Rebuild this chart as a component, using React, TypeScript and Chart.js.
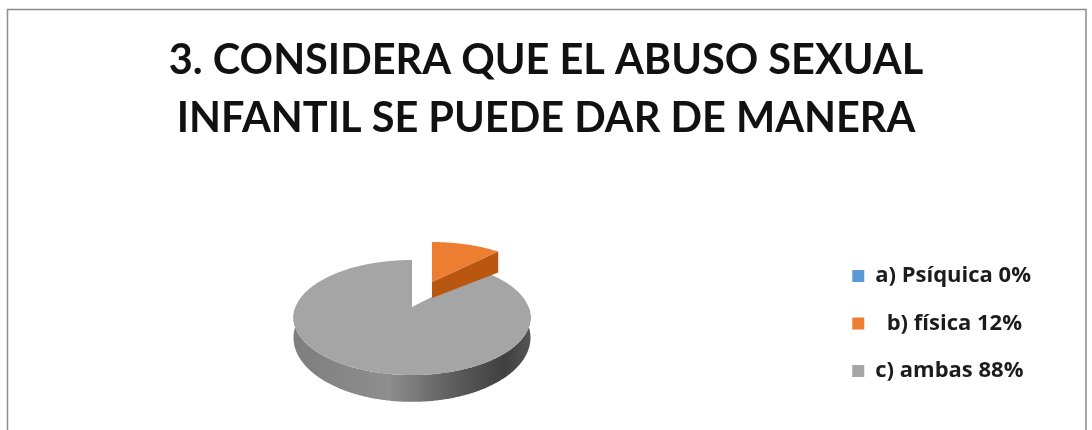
import React, { useEffect, useRef } from "react";
import { Chart, registerables } from "chart.js";

Chart.register(...registerables);

const titleLines = ["3. CONSIDERA QUE EL ABUSO SEXUAL", "INFANTIL SE PUEDE DAR DE MANERA"];
const categories = ["a) Psíquica 0%", "  b) física 12%", "c) ambas 88%"];
const values = [0, 12, 88];
const colors = ["#5b9bd5", "#ed7d31", "#a5a5a5"];

const frame = { left: 7.5, top: 9.5, right: 1086, color: "#8c8c8c" };
const view = { x: 412, y: 307, xScale: 116.5, yScale: 55.6, persp: 0.1826, baseY: 326, baseYScale: 62 };
const explode = { dx: 20, dy: -25, sx: 0.94, sy: 0.85, baseDrop: 16, wall: "#b9560f" };
const sideStops: [number, string][] = [
  [0, "#7e7e7e"],
  [0.4, "#8e8e8e"],
  [0.69, "#5a5a5a"],
  [0.89, "#404040"],
  [1, "#555555"],
];

function project(a: number, base: boolean): [number, number] {
  const u = Math.cos(a);
  const v = Math.sin(a);
  const s = 1 / (1 - view.persp * v);
  return [
    view.x + view.xScale * u * s,
    (base ? view.baseY + view.baseYScale * v * s : view.y + view.yScale * v * s),
  ];
}

function samples(from: number, to: number): number[] {
  const n = Math.max(2, Math.ceil(Math.abs(to - from) / 0.01));
  const out: number[] = [];
  for (let i = 0; i <= n; i++) out.push(from + ((to - from) * i) / n);
  return out;
}

const pie3d = {
  id: "pie3d",
  beforeDatasetsDraw(chart: any) {
    const ctx = chart.ctx as CanvasRenderingContext2D;
    const arcs = chart.getDatasetMeta(0).data;
    const fills = chart.data.datasets[0].backgroundColor as string[];
    const order = arcs.map((_: any, i: number) => i).sort((a: number, b: number) => (arcs[a].options.offset > 0 ? 1 : 0) - (arcs[b].options.offset > 0 ? 1 : 0));
    ctx.save();
    for (const i of order) {
      const arc = arcs[i];
      if (arc.endAngle - arc.startAngle <= 0) continue;
      const exploded = arc.options.offset > 0;
      const angles = samples(arc.startAngle, arc.endAngle);
      if (exploded) {
        const map = (p: [number, number], drop = 0): [number, number] => [
          view.x + explode.dx + (p[0] - view.x) * explode.sx,
          view.y + explode.dy + (p[1] - view.y) * explode.sy + drop,
        ];
        const apex = map([view.x, view.y]);
        const corner = map(project(arc.endAngle, false));
        ctx.fillStyle = explode.wall;
        ctx.beginPath();
        ctx.moveTo(apex[0], apex[1]);
        ctx.lineTo(corner[0], corner[1]);
        ctx.lineTo(corner[0], corner[1] + explode.baseDrop + 5);
        ctx.lineTo(apex[0], apex[1] + explode.baseDrop);
        ctx.closePath();
        ctx.fill();
        ctx.fillStyle = fills[i];
        ctx.beginPath();
        ctx.moveTo(apex[0], apex[1]);
        for (const a of angles) {
          const p = map(project(a, false));
          ctx.lineTo(p[0], p[1]);
        }
        ctx.closePath();
        ctx.fill();
      } else {
        const from = Math.max(arc.startAngle, 0);
        const to = Math.min(arc.endAngle, Math.PI);
        if (to > from) {
          const g = ctx.createLinearGradient(view.x - 119, 0, view.x + 119, 0);
          for (const [t, c] of sideStops) g.addColorStop(t, c);
          ctx.fillStyle = g;
          ctx.beginPath();
          const front = samples(from, to);
          front.forEach((a, k) => {
            const p = project(a, false);
            if (k === 0) ctx.moveTo(p[0], p[1]);
            else ctx.lineTo(p[0], p[1]);
          });
          [...front].reverse().forEach((a) => {
            const p = project(a, true);
            ctx.lineTo(p[0], p[1]);
          });
          ctx.closePath();
          ctx.fill();
        }
        ctx.fillStyle = fills[i];
        ctx.beginPath();
        ctx.moveTo(view.x, view.y);
        for (const a of angles) {
          const p = project(a, false);
          ctx.lineTo(p[0], p[1]);
        }
        ctx.closePath();
        ctx.fill();
      }
    }
    ctx.restore();
    return false;
  },
};

const framePlugin = {
  id: "framePlugin",
  beforeDraw(chart: any) {
    const ctx = chart.ctx as CanvasRenderingContext2D;
    ctx.save();
    ctx.fillStyle = "#ffffff";
    ctx.fillRect(0, 0, chart.width, chart.height);
    ctx.strokeStyle = frame.color;
    ctx.lineWidth = 1.5;
    ctx.beginPath();
    ctx.moveTo(frame.left, chart.height);
    ctx.lineTo(frame.left, frame.top);
    ctx.lineTo(frame.right, frame.top);
    ctx.lineTo(frame.right, chart.height);
    ctx.stroke();
    ctx.restore();
  },
};

export default function App() {
  const ref = useRef<HTMLCanvasElement>(null);
  useEffect(() => {
    const chart = new Chart(ref.current!, {
      type: "pie",
      data: {
        labels: categories,
        datasets: [{ data: values, backgroundColor: colors, borderWidth: 0, offset: [0, 12, 0] }],
      },
      plugins: [framePlugin, pie3d],
      options: {
        animation: false,
        responsive: false,
        layout: { padding: { left: 51, right: 51, bottom: 0, top: 0 } },
        plugins: {
          tooltip: { enabled: false },
          title: {
            display: true,
            text: titleLines,
            color: "#111111",
            font: { family: "Lato", size: 41.5, weight: "bold", lineHeight: 1.41 },
            padding: { top: 31, bottom: 69 },
          },
          legend: {
            position: "right",
            fullSize: false,
            labels: {
              boxWidth: 12,
              boxHeight: 12,
              padding: 25.5,
              color: "#1c1c1c",
              font: { family: "Open Sans", size: 22, weight: "bold" },
            },
          },
        },
      },
    } as any);
    return () => chart.destroy();
  }, []);
  return (
    <div style={{ position: "absolute", left: 0, top: 0, width: 1092, height: 430, overflow: "hidden", background: "#fff" }}>
      <canvas ref={ref} width={1092} height={430} style={{ display: "block", filter: "blur(0.6px)" }} />
    </div>
  );
}
